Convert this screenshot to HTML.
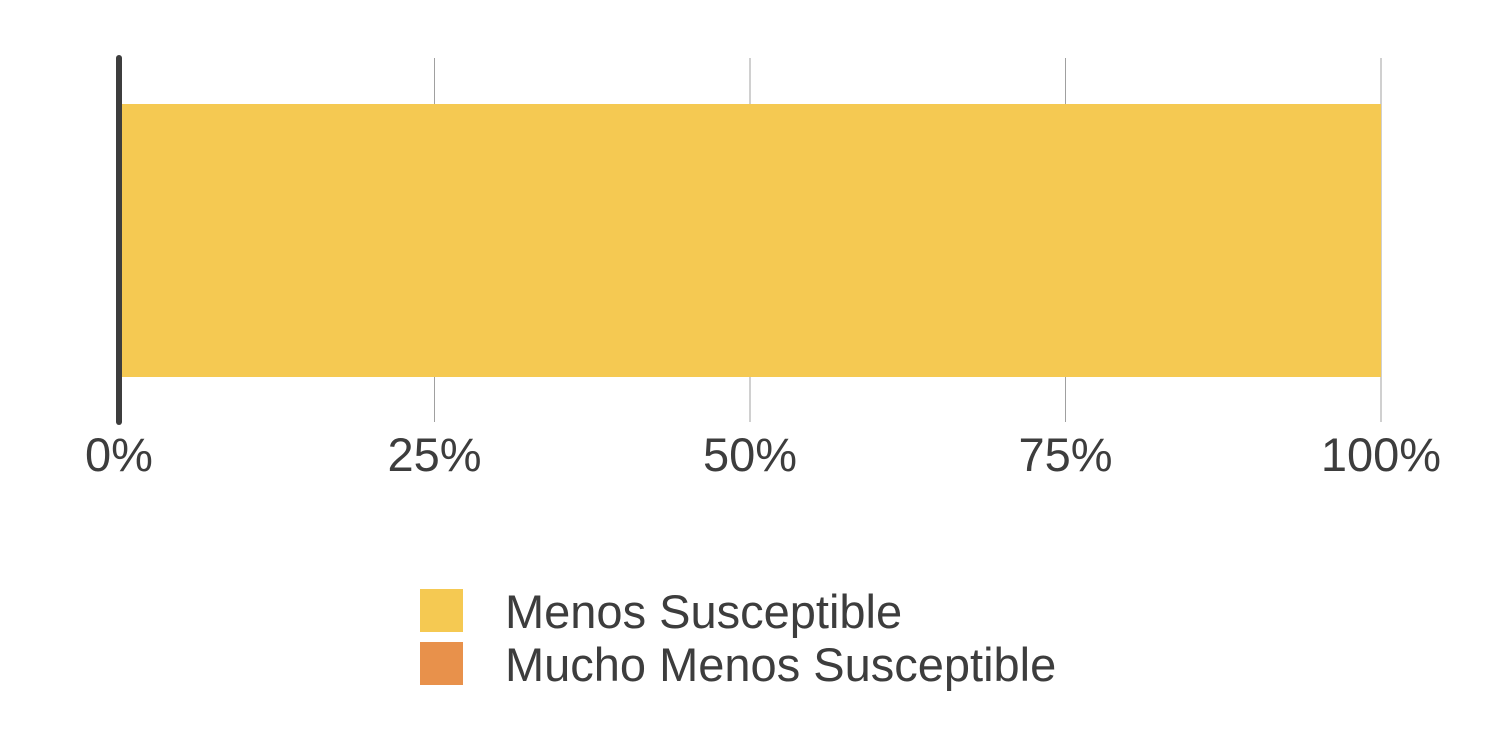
<!DOCTYPE html>
<html><head><meta charset="utf-8"><style>
body{margin:0;background:#fff;}
svg{display:block;font-family:"Liberation Sans",Arial,sans-serif;}
</style></head><body>
<svg id="chart" width="1500" height="750" viewBox="0 0 1500 750">
<g id="grid"></g>
<g id="bars"></g>
<line x1="119" y1="58" x2="119" y2="422" stroke="#3d3d3d" stroke-width="6" stroke-linecap="round"/>
<g id="ticks"></g>
<g id="legend"></g>
</svg>
<script>
const categories = ["Grupo"];
const seriesNames = ["Menos Susceptible", "Mucho Menos Susceptible"];
const seriesMenos = [1.0];
const seriesMucho = [0.0];
const tickValues = [0, 0.25, 0.5, 0.75, 1];
const tickLabels = ["0%", "25%", "50%", "75%", "100%"];
const colors = ["#F5C952", "#E8914B"];

const NS = "http://www.w3.org/2000/svg";
const x = v => 119 + v * (1381 - 119);
function mk(tag, attrs, parent){const e=document.createElementNS(NS,tag);for(const k in attrs)e.setAttribute(k,attrs[k]);parent.appendChild(e);return e;}
const grid=document.getElementById('grid'), bars=document.getElementById('bars'), ticks=document.getElementById('ticks'), legend=document.getElementById('legend');
tickValues.forEach((v,i)=>{
  if(v>0){const l=mk('line',{x1:x(v),x2:x(v),y1:58,y2:422,stroke:'#a0a0a0','stroke-width':1},grid);
  
  }
  const t=mk('text',{x:x(v),y:471,'text-anchor':'middle','font-size':47,fill:'#3d3d3d'},ticks);
  t.textContent=tickLabels[i];
  
  
});
categories.forEach((c,ci)=>{
  let start=0;
  [seriesMenos,seriesMucho].forEach((s,si)=>{
    const v=s[ci];
    const r=mk('rect',{x:x(start),y:104,width:x(start+v)-x(start),height:273,fill:colors[si]},bars);
    
    
    start+=v;
  });
});
seriesNames.forEach((n,i)=>{
  const g=mk('g',{},legend);
  
  
  mk('rect',{x:420,y:589+i*53,width:43,height:43,fill:colors[i]},g);
  const t=mk('text',{x:505,y:628+i*53,'font-size':47,fill:'#3d3d3d'},g);
  t.textContent=n;
});
</script>
</body></html>
